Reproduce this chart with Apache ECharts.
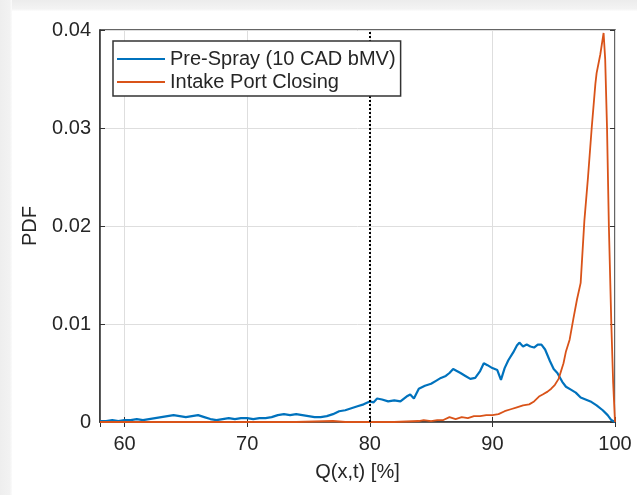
<!DOCTYPE html>
<html>
<head>
<meta charset="utf-8">
<script src="https://cdn.jsdelivr.net/npm/echarts@6/dist/echarts.min.js"></script>
<style>
  html, body { margin: 0; padding: 0; background: #fff; }
  #chart { width: 637px; height: 495px; }
</style>
</head>
<body>
<div id="chart"></div>
<script>
// Q(x,t) [%] sample positions and PDF values for each crank-angle state
const preSprayX = [58.0, 58.5, 59.0, 59.5, 60.0, 60.5, 61.0, 61.5, 62.0, 62.5, 63.0, 63.5, 64.0, 64.5, 65.0, 65.5,
  66.0, 66.5, 67.0, 67.5, 68.0, 68.5, 69.0, 69.5, 70.0, 70.5, 71.0, 71.5, 72.0, 72.5, 73.0, 73.5, 74.0, 74.5,
  75.0, 75.5, 76.0, 76.5, 77.0, 77.5, 78.0, 78.5, 79.0, 79.5, 80.0, 80.3, 80.6, 81.0, 81.5, 82.0, 82.5, 83.0,
  83.3, 83.6, 84.0, 84.5, 85.0, 85.4, 85.8, 86.2, 86.5, 86.8, 87.1, 87.4, 87.8, 88.2, 88.6, 89.0, 89.3, 89.6,
  90.0, 90.4, 90.7, 91.0, 91.3, 91.7, 92.0, 92.2, 92.5, 92.8, 93.1, 93.4, 93.7, 94.0, 94.3, 94.7, 95.0, 95.3,
  95.7, 96.0, 96.4, 96.8, 97.2, 97.6, 98.0, 98.5, 99.0, 99.4, 99.7, 100.0];
const preSprayPdf = [0.0001, 0.0001, 0.0002, 0.0001, 0.0002, 0.0002, 0.0003, 0.0002, 0.0003, 0.0004, 0.0005, 0.0006,
  0.0007, 0.0006, 0.0005, 0.0006, 0.0007, 0.0005, 0.0003, 0.0002, 0.0003, 0.0004, 0.0003, 0.0004, 0.0004, 0.0003,
  0.0004, 0.0004, 0.0005, 0.0007, 0.0008, 0.0007, 0.0008, 0.0007, 0.0006, 0.0005, 0.0005, 0.0006, 0.0008, 0.0011,
  0.0012, 0.0014, 0.0016, 0.0018, 0.0021, 0.0020, 0.0024, 0.0023, 0.0021, 0.0022, 0.0021, 0.0026, 0.0028, 0.0024,
  0.0034, 0.0037, 0.0039, 0.0042, 0.0045, 0.0047, 0.0050, 0.0054, 0.0052, 0.0050, 0.0047, 0.0044, 0.0045, 0.0052,
  0.0060, 0.0058, 0.0055, 0.0053, 0.0043, 0.0055, 0.0063, 0.0071, 0.0078, 0.0081, 0.0077, 0.0079, 0.0077, 0.0076,
  0.0079, 0.0079, 0.0074, 0.0062, 0.0054, 0.0050, 0.0041, 0.0036, 0.0033, 0.0030, 0.0025, 0.0023, 0.0021, 0.0017,
  0.0012, 0.0007, 0.0002, 0.0];

const ipcX = [58.0, 62.0, 66.0, 70.0, 74.0, 77.0, 78.0, 80.0, 82.0, 84.0, 84.4, 85.0, 85.5, 86.0, 86.5, 87.0, 87.5,
  88.0, 88.5, 89.0, 89.5, 90.0, 90.5, 91.0, 91.5, 92.0, 92.5, 93.0, 93.4, 93.8, 94.1, 94.5, 94.8, 95.1, 95.4,
  95.8, 96.0, 96.3, 96.6, 96.9, 97.2, 97.5, 97.8, 98.1, 98.4, 98.5, 98.8, 99.07, 99.2, 99.35, 99.5, 99.7, 99.85, 100.0];
const ipcPdf = [0.0, 0.0, 0.0, 0.0, 0.0, 0.0001, 0.0, 0.0, 0.0, 0.0001, 0.0002, 0.0001, 0.0002, 0.0002, 0.0005,
  0.0003, 0.0005, 0.0004, 0.0006, 0.0006, 0.0007, 0.0007, 0.0008, 0.0011, 0.0013, 0.0015, 0.0017, 0.0018, 0.0021,
  0.0026, 0.0028, 0.0031, 0.0034, 0.0038, 0.0044, 0.0060, 0.0072, 0.0084, 0.0105, 0.0125, 0.0142, 0.0205, 0.0250,
  0.0300, 0.0345, 0.0356, 0.0375, 0.0397, 0.0370, 0.0300, 0.0200, 0.0100, 0.0040, 0.0];

const seriesNames = ['Pre-Spray (10 CAD bMV)', 'Intake Port Closing'];
const xLimits = [58, 100];
const yLimits = [0, 0.04];
const markerQ = 80;

const pairs = (xs, ys) => xs.map((x, i) => [x, ys[i]]);

const FONT = '"Liberation Sans", Arial, sans-serif';
const TXT = '#262626';
const AXIS = '#333333';
const GRID = '#dedede';

const chart = echarts.init(document.getElementById('chart'), null, { renderer: 'canvas' });

const tickStyle = { show: true, inside: true, length: 5, lineStyle: { color: AXIS, width: 1 } };

chart.setOption({
  backgroundColor: '#ffffff',
  animation: false,
  graphic: [
    {
      type: 'rect', z: -10, silent: true,
      shape: { x: 0, y: 0, width: 637, height: 11 },
      style: { fill: new echarts.graphic.LinearGradient(0, 0, 0, 1, [
        { offset: 0, color: '#ececec' }, { offset: 0.8, color: '#f3f3f3' }, { offset: 1, color: '#fdfdfd' }]) }
    },
    {
      type: 'rect', z: -10, silent: true,
      shape: { x: 0, y: 0, width: 12, height: 495 },
      style: { fill: new echarts.graphic.LinearGradient(0, 0, 1, 0, [
        { offset: 0, color: '#eeeeee' }, { offset: 0.8, color: '#f2f2f2' }, { offset: 1, color: '#fbfbfb' }]) }
    }
  ],
  grid: {
    left: 100, top: 30, right: 22, bottom: 73,
    show: true, borderColor: AXIS, borderWidth: 1.5, backgroundColor: 'transparent'
  },
  legend: {
    orient: 'vertical',
    left: 113, top: 41,
    z: 10,
    icon: 'rect',
    backgroundColor: '#ffffff',
    borderColor: AXIS, borderWidth: 1.5, borderRadius: 0,
    padding: [8, 5, 4, 4],
    itemWidth: 48, itemHeight: 2, itemGap: 3,
    textStyle: { fontFamily: FONT, fontSize: 20, color: TXT, lineHeight: 20 },
    data: seriesNames
  },
  xAxis: [
    {
      type: 'value', min: xLimits[0], max: xLimits[1], splitNumber: 4,
      name: 'Q(x,t) [%]', nameLocation: 'middle', nameGap: 40,
      nameTextStyle: { fontFamily: FONT, fontSize: 20, color: TXT },
      axisLine: { show: true, onZero: false, lineStyle: { color: AXIS, width: 1.5 } },
      axisTick: tickStyle,
      axisLabel: { fontFamily: FONT, fontSize: 20, color: TXT, margin: 12, showMinLabel: false },
      splitLine: { show: true, lineStyle: { color: GRID, width: 1 } }
    },
    {
      type: 'value', position: 'top', min: xLimits[0], max: xLimits[1], splitNumber: 4,
      axisLine: { show: false }, axisTick: tickStyle,
      axisLabel: { show: false }, splitLine: { show: false }
    }
  ],
  yAxis: [
    {
      type: 'value', min: yLimits[0], max: yLimits[1], interval: 0.01,
      name: 'PDF', nameLocation: 'middle', nameGap: 60,
      nameTextStyle: { fontFamily: FONT, fontSize: 20, color: TXT },
      axisLine: { show: true, lineStyle: { color: AXIS, width: 1.5 } },
      axisTick: tickStyle,
      axisLabel: { fontFamily: FONT, fontSize: 20, color: TXT, margin: 9 },
      splitLine: { show: true, lineStyle: { color: GRID, width: 1 } }
    },
    {
      type: 'value', position: 'right', min: yLimits[0], max: yLimits[1], interval: 0.01,
      axisLine: { show: false }, axisTick: tickStyle,
      axisLabel: { show: false }, splitLine: { show: false }
    }
  ],
  series: [
    {
      name: seriesNames[0], type: 'line', symbol: 'none', smooth: false,
      color: '#0072BD',
      lineStyle: { color: '#0072BD', width: 2.2 },
      data: pairs(preSprayX, preSprayPdf),
      markLine: {
        silent: true, symbol: 'none', label: { show: false },
        lineStyle: { color: '#000000', type: [2, 2], width: 2 },
        data: [{ xAxis: markerQ }]
      }
    },
    {
      name: seriesNames[1], type: 'line', symbol: 'none', smooth: false,
      color: '#D95319',
      lineStyle: { color: '#D95319', width: 1.8 },
      data: pairs(ipcX, ipcPdf)
    }
  ]
});
</script>
</body>
</html>
